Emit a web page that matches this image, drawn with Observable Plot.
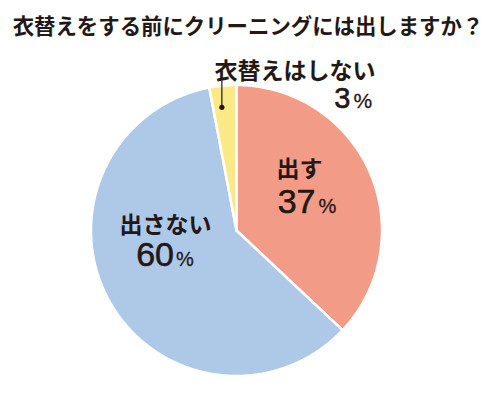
<!DOCTYPE html>
<html><head><meta charset="utf-8">
<script src="https://cdn.jsdelivr.net/npm/d3@7"></script>
<script src="https://cdn.jsdelivr.net/npm/@observablehq/plot@0.6"></script>
<style>
body{margin:0;background:#fff;width:500px;height:393px;overflow:hidden;}
#title{height:50px;line-height:50px;font-family:"Noto Sans CJK JP";font-weight:700;font-size:21.4px;color:#231815;text-align:center;padding-right:4px;white-space:nowrap;}
#chart svg{display:block;overflow:visible;}
</style></head><body>
<div id="title">衣替えをする前にクリーニングには出しますか？</div>
<div id="chart"></div>
<script>
// data
const categories = ["出す", "出さない", "衣替えはしない"];
const values = [37, 60, 3];
const numberLabels = ["37", "60", "3"];
const unitLabel = "%";

// styles / layout
const sliceColors = ["#f29c87", "#aec8e8", "#fbe887"];
const ink = "#231815";
const jp = "Noto Sans CJK JP";
const num = "Liberation Sans";
// offsets in px relative to anchor point (slice mid-angle at fraction f of radius)
const layout = [
  {f: 0.55, name: {dx: -33.4, dy: -22.2, anchor: "start", size: 23}, num: {dx: 5.6, dy: 13.8, size: 34}, unit: {dx: 8.6, dy: 13.8, size: 20}},
  {f: 0.55, name: {dx: -0.9, dy: -35.6, anchor: "middle", size: 23}, num: {dx: 7.6, dy: -3.4, size: 34}, unit: {dx: 9.6, dy: -3.4, size: 20}},
  {f: 0.85, name: {dx: 150.6, dy: -27.9, anchor: "end", size: 23}, num: {dx: 125.6, dy: 1.1, size: 29}, unit: {dx: 128.6, dy: 1.1, size: 21}, leaderTop: 1.031}
];

const total = d3.sum(values);
let acc = 0;
const slices = categories.map((c, i) => {
  const a0 = acc / total * 2 * Math.PI;
  acc += values[i];
  const a1 = acc / total * 2 * Math.PI;
  const am = (a0 + a1) / 2;
  const f = layout[i].f;
  return {c, i, a0, a1, ax: f * Math.sin(am), ay: f * Math.cos(am), num: numberLabels[i], top: layout[i].leaderTop};
});
const pts = slices.flatMap(s => {
  const n = Math.max(2, Math.ceil((s.a1 - s.a0) / (Math.PI / 360)));
  const out = [{c: s.c, x: 0, y: 0}];
  for (let k = 0; k <= n; k++) {
    const a = s.a0 + (s.a1 - s.a0) * k / n;
    out.push({c: s.c, x: Math.sin(a), y: Math.cos(a)});
  }
  return out;
});

const textMarks = slices.flatMap(s => {
  const L = layout[s.i];
  return [
    Plot.text([s], {x: "ax", y: "ay", text: "c", dx: L.name.dx, dy: L.name.dy, textAnchor: L.name.anchor, lineAnchor: "bottom", fontFamily: jp, fontWeight: 700, fontSize: L.name.size, fill: ink}),
    Plot.text([s], {x: "ax", y: "ay", text: "num", dx: L.num.dx, dy: L.num.dy, textAnchor: "end", lineAnchor: "bottom", fontFamily: num, fontSize: L.num.size, fill: ink, stroke: ink, strokeWidth: 0.6}),
    Plot.text([s], {x: "ax", y: "ay", text: () => unitLabel, dx: L.unit.dx, dy: L.unit.dy, textAnchor: "start", lineAnchor: "bottom", fontFamily: num, fontSize: L.unit.size, fill: ink, stroke: ink, strokeWidth: 0.3})
  ];
});
const small = slices.filter(s => s.top != null);

const chart = Plot.plot({
  width: 500, height: 343, margin: 0,
  style: {background: "transparent", overflow: "visible"},
  x: {domain: [-1, 1], range: [90.5, 381.5], axis: null},
  y: {domain: [-1, 1], range: [325.5, 34.5], axis: null},
  color: {domain: categories, range: sliceColors},
  marks: [
    Plot.line(pts, {x: "x", y: "y", z: "c", fill: "c", stroke: "white", strokeWidth: 2.5, strokeLinejoin: "round", curve: "linear-closed"}),
    Plot.link(small, {x1: "ax", y1: "ay", x2: "ax", y2: "top", dx: -3, stroke: ink, strokeWidth: 1.2}),
    Plot.dot(small, {x: "ax", y: "ay", r: 2.6, fill: ink, dx: -3}),
    ...textMarks
  ]
});
document.getElementById("chart").appendChild(chart);
</script>
</body></html>
